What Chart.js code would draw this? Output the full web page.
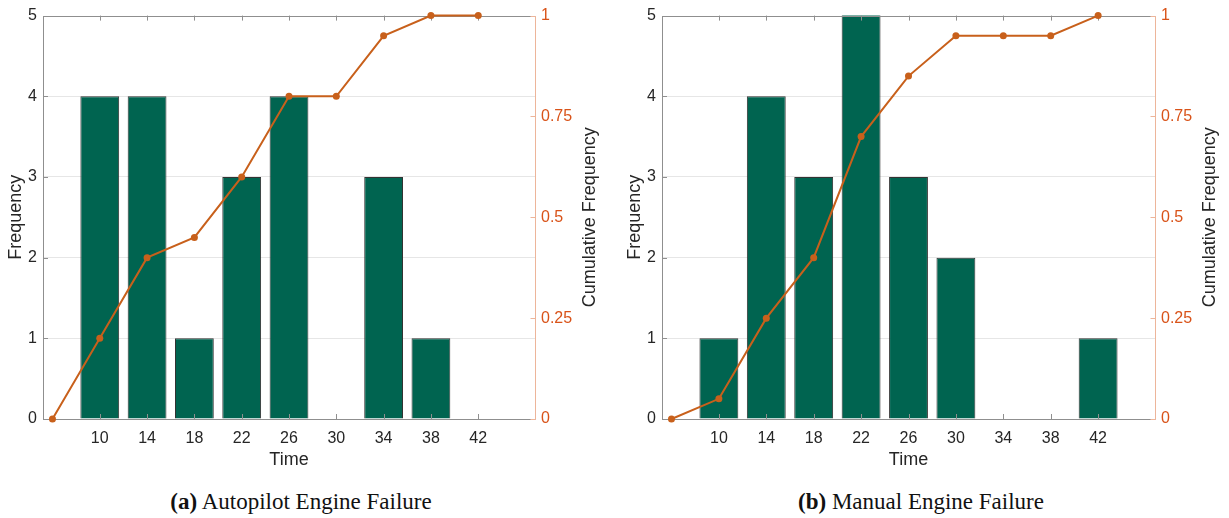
<!DOCTYPE html>
<html>
<head>
<meta charset="utf-8">
<script src="https://cdn.jsdelivr.net/npm/chart.js@4/dist/chart.umd.min.js"></script>
<style>
  html, body { margin: 0; padding: 0; background: #fff; }
  #wrap { position: relative; width: 1229px; height: 518px; overflow: hidden; }
  .panel { position: absolute; top: 0; }
  .cap {
    position: absolute; top: 489px;
    font-family: "Liberation Serif", "Times New Roman", serif;
    font-size: 23px; color: #111; white-space: nowrap;
    transform: translateX(-50%);
  }
</style>
</head>
<body>
<div id="wrap">
  <canvas id="c1" class="panel" width="614" height="480" style="left:0"></canvas>
  <canvas id="c2" class="panel" width="615" height="480" style="left:614px"></canvas>
  <div class="cap" style="left:301px"><b>(a)</b> Autopilot Engine Failure</div>
  <div class="cap" style="left:921px"><b>(b)</b> Manual Engine Failure</div>
</div>
<script>
// Histogram bin centres (time) and the points of the cumulative curve
const timeBins = [10, 14, 18, 22, 26, 30, 34, 38, 42];
const cumTimes = [6, 10, 14, 18, 22, 26, 30, 34, 38, 42];

// Autopilot engine failure
const autopilotFreq = [4, 4, 1, 3, 4, 0, 3, 1, 0];
const autopilotCum = [0, 0.2, 0.4, 0.45, 0.6, 0.8, 0.8, 0.95, 1, 1];

// Manual engine failure
const manualFreq = [1, 4, 3, 6, 3, 2, 0, 0, 1];
const manualCum = [0, 0.05, 0.25, 0.4, 0.7, 0.85, 0.95, 0.95, 0.95, 1];

// Axis ticks
const timeTicks = [10, 14, 18, 22, 26, 30, 34, 38, 42];
const freqTicks = [0, 1, 2, 3, 4, 5];
const cumTicks = [0, 0.25, 0.5, 0.75, 1];

const BAR_FILL = '#006450';
const BAR_EDGE = '#333333';
const LINE_COL = '#C8601B';
const RIGHT_TEXT = '#D95319';
const RIGHT_AXIS = '#EDB59A';
const AXIS_GRAY = '#8f8f8f';
const TEXT_COL = '#262626';
const SANS = '"Liberation Sans", Arial, Helvetica, sans-serif';

// Box and inward tick marks, drawn over the bars but under the curve
function drawFrame(chart) {
  const { ctx, chartArea: { left, right, top, bottom }, scales } = chart;
  const seg = (x1, y1, x2, y2) => { ctx.beginPath(); ctx.moveTo(x1, y1); ctx.lineTo(x2, y2); ctx.stroke(); };
  const L = 5;
  ctx.save();
  ctx.lineWidth = 1;
  ctx.strokeStyle = AXIS_GRAY;
  timeTicks.forEach(v => {
    const x = Math.round(scales.x.getPixelForValue(v)) + 0.5;
    seg(x, top, x, top + L);
    seg(x, bottom, x, bottom - L);
  });
  freqTicks.forEach(v => {
    const y = Math.round(scales.y.getPixelForValue(v)) + 0.5;
    seg(left, y, left + L, y);
  });
  const l = Math.round(left) + 0.5, r = Math.round(right) + 0.5;
  const t = Math.round(top) + 0.5, b = Math.round(bottom) + 0.5;
  seg(l, t, r, t);
  seg(l, b, r, b);
  seg(l, t, l, b);
  ctx.strokeStyle = RIGHT_AXIS;
  cumTicks.forEach(v => {
    const y = Math.round(scales.y2.getPixelForValue(v)) + 0.5;
    seg(r - L, y, r, y);
  });
  seg(r, t, r, b);
  ctx.restore();
}

const framePlugin = {
  id: 'frame',
  afterDatasetDraw(chart, args) {
    if (args.meta.type === 'bar') drawFrame(chart);
  },
  afterDraw(chart) {
    const { ctx, chartArea: { left, right, top, bottom } } = chart;
    const midY = (top + bottom) / 2;
    ctx.save();
    ctx.fillStyle = TEXT_COL;
    ctx.font = '18px ' + SANS;
    ctx.textAlign = 'center';
    ctx.textBaseline = 'middle';
    ctx.fillText('Time', (left + right) / 2, bottom + 41);
    ctx.save();
    ctx.translate(left - 27, midY);
    ctx.rotate(-Math.PI / 2);
    ctx.fillText('Frequency', 0, 0);
    ctx.restore();
    ctx.save();
    ctx.translate(right + 55, midY);
    ctx.rotate(-Math.PI / 2);
    ctx.fillText('Cumulative Frequency', 0, 0);
    ctx.restore();
    ctx.restore();
  }
};

function makeChart(id, freq, cum, leftW, rightW) {
  return new Chart(document.getElementById(id), {
    type: 'bar',
    data: {
      datasets: [
        {
          type: 'line',
          data: cumTimes.map((t, i) => ({ x: t, y: cum[i] })),
          yAxisID: 'y2',
          borderColor: LINE_COL,
          backgroundColor: LINE_COL,
          borderWidth: 2,
          pointRadius: 3.5,
          pointBorderWidth: 0,
          tension: 0,
          clip: false,
          order: 0
        },
        {
          type: 'bar',
          data: timeBins.map((t, i) => ({ x: t, y: freq[i] })),
          yAxisID: 'y',
          backgroundColor: BAR_FILL,
          borderColor: BAR_EDGE,
          borderWidth: 1,
          barPercentage: 0.82,
          categoryPercentage: 1,
          clip: 0,
          order: 1
        }
      ]
    },
    options: {
      responsive: false,
      animation: false,
      devicePixelRatio: 1,
      layout: { padding: { top: 15, left: 0, right: 0, bottom: 0 } },
      plugins: { legend: { display: false }, tooltip: { enabled: false } },
      scales: {
        x: {
          type: 'linear',
          min: 5.2,
          max: 46.8,
          offset: false,
          afterBuildTicks: s => { s.ticks = timeTicks.map(v => ({ value: v })); },
          afterFit: s => { s.height = 61; },
          grid: { display: false, drawTicks: false },
          border: { display: false },
          ticks: { color: TEXT_COL, font: { family: SANS, size: 16 }, padding: 10, maxRotation: 0, autoSkip: false }
        },
        y: {
          position: 'left',
          min: 0,
          max: 5,
          afterBuildTicks: s => { s.ticks = freqTicks.map(v => ({ value: v })); },
          afterFit: s => { s.width = leftW; },
          grid: {
            drawTicks: false,
            color: c => (c.tick && (c.tick.value === 0 || c.tick.value === 5)) ? 'rgba(0,0,0,0)' : '#e6e6e6',
            lineWidth: 1
          },
          border: { display: false },
          ticks: { color: TEXT_COL, font: { family: SANS, size: 16 }, padding: 6 }
        },
        y2: {
          position: 'right',
          min: 0,
          max: 1,
          afterBuildTicks: s => { s.ticks = cumTicks.map(v => ({ value: v })); },
          afterFit: s => { s.width = rightW; },
          grid: { display: false, drawTicks: false },
          border: { display: false },
          ticks: {
            color: RIGHT_TEXT,
            font: { family: SANS, size: 16 },
            padding: 6,
            callback: v => String(v)
          }
        }
      }
    },
    plugins: [framePlugin]
  });
}

makeChart('c1', autopilotFreq, autopilotCum, 43, 79);
makeChart('c2', manualFreq, manualCum, 48, 74);
</script>
</body>
</html>
